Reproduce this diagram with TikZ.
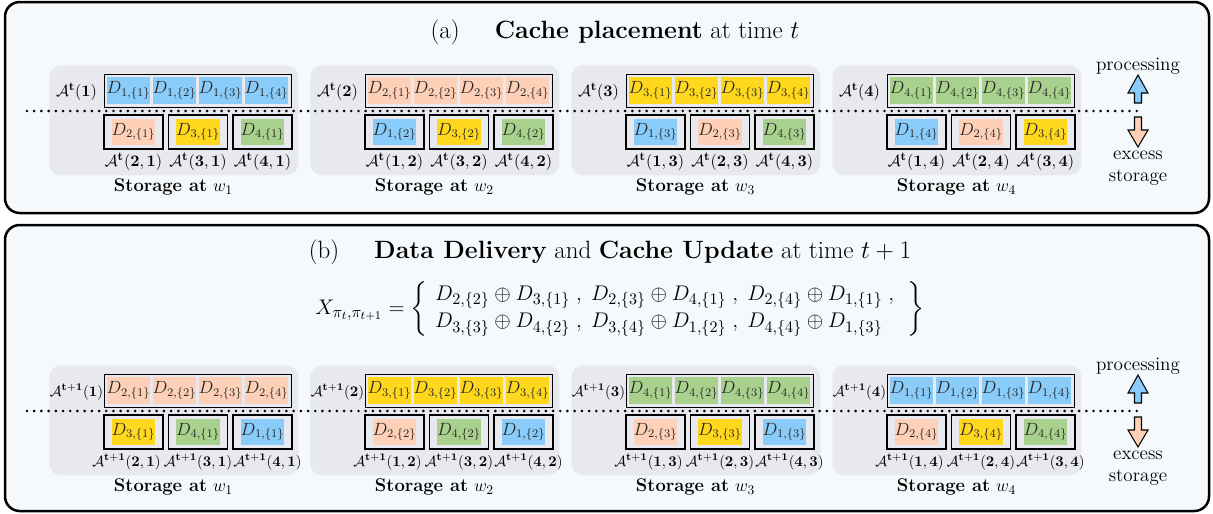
\documentclass[tikz,border=0pt]{standalone}
\usepackage{amsmath,amssymb}
\usepackage{tikz}

\definecolor{c1}{RGB}{137,204,250}
\definecolor{c2}{RGB}{253,208,183}
\definecolor{c3}{RGB}{255,216,30}
\definecolor{c4}{RGB}{169,209,142}
\definecolor{panelbg}{RGB}{245,249,251}
\definecolor{blockbg}{RGB}{232,233,238}

\begin{document}
\begin{tikzpicture}[x=0.68pt,y=-0.68pt,
  panel/.style={draw,line width=1.7pt,rounded corners=10pt,fill=panelbg},
  wblock/.style={fill=blockbg,rounded corners=8pt,minimum width=169.3pt,minimum height=74.8pt,inner sep=0pt},
  rowframe/.style={draw,line width=0.75pt,minimum width=127.2pt,minimum height=22.4pt,inner sep=0pt},
  boxframe/.style={draw,line width=0.75pt,minimum width=40.1pt,minimum height=23.1pt,inner sep=0pt},
  cell/.style={minimum width=29.2pt,minimum height=17.7pt,inner sep=0pt,text=black!85,font=\fontsize{11.5}{13}\selectfont},
  alabel/.style={inner sep=0pt},
  wlabel/.style={font=\fontsize{12.5}{15}\selectfont},
  side/.style={font=\fontsize{13}{15}\selectfont,align=center},
  dots/.style={line width=2pt,dash pattern=on 0pt off 4.9pt,line cap=round},
  barrow/.style={draw,line width=0.7pt,line join=miter}]

\useasboundingbox (0,0) rectangle (1213,514);

% the two panels
\draw[panel] (5,2) rectangle (1209,213);
\draw[panel] (5,225) rectangle (1209,511);

\node[inner sep=0pt] (title-a) at (615,32) {\fontsize{17}{20}\selectfont (a)\hspace{1.4em}\textbf{Cache placement} at time $t$};
\node[inner sep=0pt] (title-b) at (610,252) {\fontsize{17}{20}\selectfont (b)\hspace{1.4em}\textbf{Data Delivery} and \textbf{Cache Update} at time $t+1$};

\node[inner sep=0pt] (xeq) at (620,309) {\fontsize{15.5}{18}\selectfont $X_{\pi_t,\pi_{t+1}} = \left\{\begin{array}{l}
  D_{2,\{2\}}\oplus D_{3,\{1\}}\;,\;D_{2,\{3\}}\oplus D_{4,\{1\}}\;,\;D_{2,\{4\}}\oplus D_{1,\{1\}}\;,\\
  D_{3,\{3\}}\oplus D_{4,\{2\}}\;,\;D_{3,\{4\}}\oplus D_{1,\{2\}}\;,\;D_{4,\{4\}}\oplus D_{1,\{3\}}
  \end{array}\;\right\}$};

% storage blocks
\foreach \p/\yb/\tm/\sh/\fs in {a/65/t/0/11,b/365/t+1/1/10}{
  \foreach \k/\ja/\jb/\jc in {1/2/3/4,2/1/3/4,3/1/2/4,4/1/2/3}{
    \pgfmathsetmacro\xb{49+261*(\k-1)}
    \pgfmathtruncatemacro\ui{mod(\k-1+\sh,4)+1}
    \node[wblock,anchor=north west] (\p-w\k) at (\xb,\yb) {};
    \node[alabel,font=\fontsize{\fs}{13}\selectfont] (\p-a\k) at (\xb+27.5,\yb+27) {$\mathcal{A}^{\mathbf{\tm}}(\mathbf{\k})$};
    \node[rowframe,anchor=north west] (\p-r\k) at (\xb+55,\yb+9) {};
    \foreach \i in {1,...,4}
      \node[cell,fill=c\ui] (\p-c\k\i) at (\xb+33.5+46*\i,\yb+25.5) {$D_{\ui,\{\i\}}$};
    \foreach \j [count=\n] in {\ja,\jb,\jc}{
      \pgfmathtruncatemacro\dd{mod(\j-1+\sh,4)+1}
      \pgfmathsetmacro\cx{\xb+20+64.5*\n}
      \pgfmathsetmacro\lx{\cx+\sh*(\n==1 ? -7 : (\n==3 ? 5 : 0))}
      \node[boxframe] (\p-b\k\n) at (\cx,\yb+67) {};
      \node[cell,fill=c\dd] (\p-d\k\n) at (\cx,\yb+67) {$D_{\dd,\{\k\}}$};
      \node[alabel,font=\fontsize{\fs}{13}\selectfont] (\p-l\k\n) at (\lx,\yb+97) {$\mathcal{A}^{\mathbf{\tm}}(\mathbf{\j},\mathbf{\k})$};
    }
    \node[wlabel] (\p-s\k) at (\xb+124.5,\yb+122) {\textbf{Storage at} $w_{\k}$};
  }
  % split line and the two directions
  \coordinate (\p-dl) at (27,\yb+46);
  \coordinate (\p-dr) at (1143,\yb+46);
  \draw[dots] (\p-dl) -- (\p-dr);
  \draw[barrow,fill=c1] (1138,\yb+10) -- ++(10,18) -- ++(-6.5,0) -- ++(0,10) -- ++(-7,0) -- ++(0,-10) -- ++(-6.5,0) -- cycle;
  \draw[barrow,fill=c2] (1138,\yb+82) -- ++(10,-17) -- ++(-6.5,0) -- ++(0,-13) -- ++(-7,0) -- ++(0,13) -- ++(-6.5,0) -- cycle;
  \node[side] (\p-proc) at (1138,\yb+1) {processing};
  \node[side] (\p-exc) at (1138,\yb+103) {excess\\storage};
}
\end{tikzpicture}
\end{document}
